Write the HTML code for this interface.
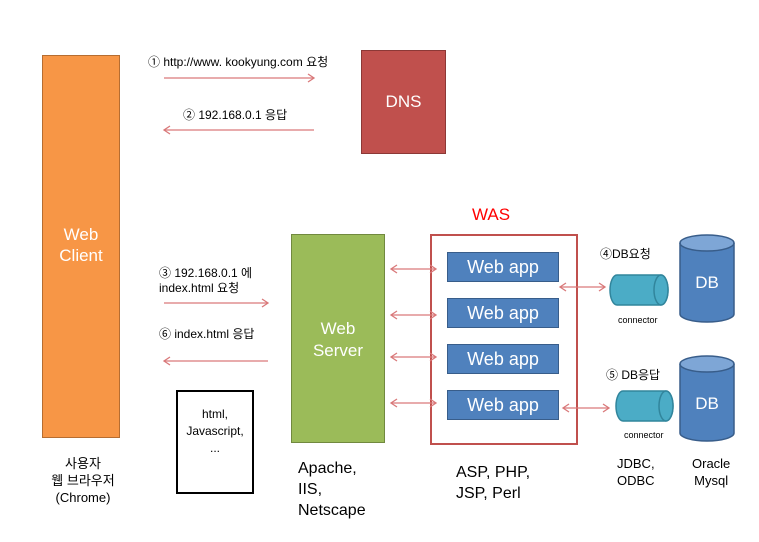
<!DOCTYPE html>
<html><head><meta charset="utf-8"><style>
body{margin:0;width:759px;height:542px;background:#fff;position:relative;overflow:hidden;font-family:"Liberation Sans","Noto Sans CJK KR",sans-serif}
.a{position:absolute}
.t{position:absolute;font-size:12px;color:#000;white-space:nowrap}
.app{position:absolute;left:447px;width:110px;height:28px;background:#4f81bd;border:1px solid #385d8a;color:#fff;font-size:18px;text-align:center;line-height:28px}
</style></head><body>
<div class="a" style="left:42px;top:55px;width:76px;height:381px;background:#f79646;border:1px solid #b66d31"></div>
<div class="a" style="left:42px;top:224px;width:78px;text-align:center;color:#fff;font-size:17px;line-height:21px">Web<br>Client</div>
<div class="a" style="left:361px;top:50px;width:83px;height:102px;background:#c0504d;border:1px solid #8c3836;color:#fff;font-size:17px;text-align:center;line-height:102px">DNS</div>
<div class="a" style="left:291px;top:234px;width:92px;height:207px;background:#9bbb59;border:1px solid #71893f"></div>
<div class="a" style="left:291px;top:318px;width:94px;text-align:center;color:#fff;font-size:17px;line-height:22px">Web<br>Server</div>
<div class="a" style="left:430px;top:234px;width:144px;height:207px;border:2px solid #c0504d"></div>
<div class="a" style="left:472px;top:205px;color:#f00;font-size:17px">WAS</div>
<div class="app" style="top:252px">Web app</div>
<div class="app" style="top:298px">Web app</div>
<div class="app" style="top:344px">Web app</div>
<div class="app" style="top:390px">Web app</div>
<div class="a" style="left:176px;top:390px;width:78px;height:104px;border:2px solid #000;text-align:center;font-size:12px;line-height:17px;padding-top:14px;box-sizing:border-box">html,<br>Javascript,<br>...</div>
<svg class="a" style="left:0;top:0" width="759" height="542">
<g stroke="#d9797a" stroke-width="1.3" fill="none">
<line x1="164" y1="78" x2="314" y2="78"/><polyline points="308,74 314,78 308,82"/>
<line x1="164" y1="130" x2="314" y2="130"/><polyline points="170,126 164,130 170,134"/>
<line x1="164" y1="303" x2="268" y2="303"/><polyline points="262,299 268,303 262,307"/>
<line x1="164" y1="361" x2="268" y2="361"/><polyline points="170,357 164,361 170,365"/>
<g>
<line x1="391" y1="269" x2="436" y2="269"/><polyline points="397,265 391,269 397,273"/><polyline points="430,265 436,269 430,273"/>
<line x1="391" y1="315" x2="436" y2="315"/><polyline points="397,311 391,315 397,319"/><polyline points="430,311 436,315 430,319"/>
<line x1="391" y1="357" x2="436" y2="357"/><polyline points="397,353 391,357 397,361"/><polyline points="430,353 436,357 430,361"/>
<line x1="391" y1="403" x2="436" y2="403"/><polyline points="397,399 391,403 397,407"/><polyline points="430,399 436,403 430,407"/>
</g>
<line x1="560" y1="287" x2="605" y2="287"/><polyline points="566,283 560,287 566,291"/><polyline points="599,283 605,287 599,291"/>
<line x1="563" y1="408" x2="609" y2="408"/><polyline points="569,404 563,408 569,412"/><polyline points="603,404 609,408 603,412"/>
</g>
<g stroke="#31859c" stroke-width="1.5">
<path d="M617,275 H661 A7,15 0 0 1 661,305 H617 A7,15 0 0 1 617,275Z" fill="#4bacc6"/>
<ellipse cx="661" cy="290" rx="7" ry="15" fill="#4bacc6"/>
<path d="M623,391 H666 A7,15 0 0 1 666,421 H623 A7,15 0 0 1 623,391Z" fill="#4bacc6"/>
<ellipse cx="666" cy="406" rx="7" ry="15" fill="#4bacc6"/>
</g>
<g stroke="#385d8a" stroke-width="1.5" fill="#4f81bd">
<path d="M680,243 V314 A27,8 0 0 0 734,314 V243"/>
<ellipse cx="707" cy="243" rx="27" ry="8" fill="#7ea6d6"/>
<path d="M680,364 V433 A27,8 0 0 0 734,433 V364"/>
<ellipse cx="707" cy="364" rx="27" ry="8" fill="#7ea6d6"/>
</g>
<text x="707" y="288" fill="#fff" font-size="17" text-anchor="middle" font-family="Liberation Sans,sans-serif">DB</text>
<text x="707" y="409" fill="#fff" font-size="17" text-anchor="middle" font-family="Liberation Sans,sans-serif">DB</text>
</svg>
<div class="t" style="left:148px;top:53px">① http://www. kookyung.com 요청</div>
<div class="t" style="left:183px;top:106px">② 192.168.0.1 응답</div>
<div class="t" style="left:159px;top:266px;line-height:15px">③ 192.168.0.1 에<br>index.html 요청</div>
<div class="t" style="left:159px;top:325px">⑥ index.html 응답</div>
<div class="t" style="left:600px;top:245px">④DB요청</div>
<div class="t" style="left:606px;top:366px">⑤ DB응답</div>
<div class="t" style="left:618px;top:315px;font-size:9px">connector</div>
<div class="t" style="left:624px;top:430px;font-size:9px">connector</div>
<div class="t" style="left:48px;top:455px;width:70px;text-align:center;font-size:13px;line-height:17px">사용자<br>웹 브라우저<br>(Chrome)</div>
<div class="t" style="left:298px;top:458px;font-size:16px;line-height:21px">Apache,<br>IIS,<br>Netscape</div>
<div class="t" style="left:456px;top:462px;font-size:16px;line-height:21px">ASP, PHP,<br>JSP, Perl</div>
<div class="t" style="left:617px;top:455px;font-size:13px;line-height:17px;text-align:center">JDBC,<br>ODBC</div>
<div class="t" style="left:692px;top:455px;font-size:13px;line-height:17px;text-align:center">Oracle<br>Mysql</div>
</body></html>
